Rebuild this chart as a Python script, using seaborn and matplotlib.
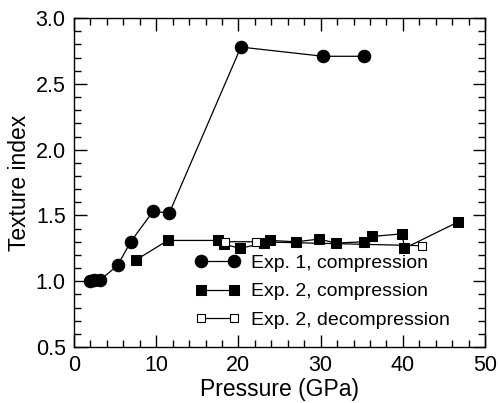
import matplotlib
matplotlib.use("Agg")
import matplotlib.pyplot as plt
import seaborn as sns
import pandas as pd
from matplotlib.ticker import MultipleLocator

# Exp. 1, compression
p1 = [1.9, 2.4, 3.2, 5.3, 6.9, 9.6, 11.6, 20.3, 30.3, 35.3]
t1 = [1.00, 1.01, 1.01, 1.12, 1.30, 1.53, 1.52, 2.78, 2.71, 2.71]

# Exp. 2, compression
p2 = [7.5, 11.4, 17.5, 18.3, 20.2, 23.1, 23.8, 27.0, 29.8, 31.9, 35.3, 36.2, 39.9, 40.2, 46.7]
t2 = [1.16, 1.31, 1.31, 1.28, 1.25, 1.29, 1.31, 1.30, 1.32, 1.29, 1.30, 1.34, 1.36, 1.25, 1.45]

# Exp. 2, decompression
p3 = [42.3, 22.1, 18.4]
t3 = [1.27, 1.30, 1.30]

labels = ["Exp. 1, compression", "Exp. 2, compression", "Exp. 2, decompression"]

sns.set_theme(style="ticks")
plt.rcParams["font.family"] = ["Liberation Sans", "DejaVu Sans"]
plt.rcParams["text.color"] = "black"
plt.rcParams["axes.labelcolor"] = "black"
plt.rcParams["xtick.color"] = "black"
plt.rcParams["ytick.color"] = "black"

fig = plt.figure(figsize=(4.98, 4.03), dpi=100)
ax = fig.add_axes([0.1486, 0.139, 0.8254, 0.816])

df1 = pd.DataFrame({"p": p1, "t": t1})
df2 = pd.DataFrame({"p": p2, "t": t2})
df3 = pd.DataFrame({"p": p3, "t": t3})

sns.lineplot(data=df1, x="p", y="t", ax=ax, sort=False, estimator=None,
             color="black", lw=0.9, marker="o", markersize=9,
             markerfacecolor="black", markeredgecolor="black", label=labels[0])
sns.lineplot(data=df2, x="p", y="t", ax=ax, sort=False, estimator=None,
             color="black", lw=0.9, marker="s", markersize=6.5,
             markerfacecolor="black", markeredgecolor="black", label=labels[1])
sns.lineplot(data=df3, x="p", y="t", ax=ax, sort=False, estimator=None,
             color="black", lw=0.9, marker="s", markersize=5.5,
             markerfacecolor="white", markeredgecolor="black", markeredgewidth=0.8,
             label=labels[2])

ax.set_xlim(0, 50)
ax.set_ylim(0.5, 3.0)
ax.xaxis.set_major_locator(MultipleLocator(10))
ax.xaxis.set_minor_locator(MultipleLocator(2))
ax.yaxis.set_major_locator(MultipleLocator(0.5))
ax.yaxis.set_minor_locator(MultipleLocator(0.1))
ax.tick_params(which="both", direction="in", top=True, right=True,
               labelsize=15.5, width=1)
ax.tick_params(which="major", length=9, pad=6)
ax.tick_params(which="minor", length=5)
for s in ax.spines.values():
    s.set_linewidth(1)
    s.set_color("black")

ax.set_xlabel("Pressure (GPa)", fontsize=16.5, labelpad=1)
ax.set_ylabel("Texture index", fontsize=16.5, labelpad=3)

leg = ax.legend(loc="upper left", bbox_to_anchor=(0.275, 0.305), frameon=False,
                fontsize=14, numpoints=2, handlelength=2.3, handletextpad=0.6,
                labelspacing=0.55, borderaxespad=0)

fig.savefig("out.png", dpi=100)
